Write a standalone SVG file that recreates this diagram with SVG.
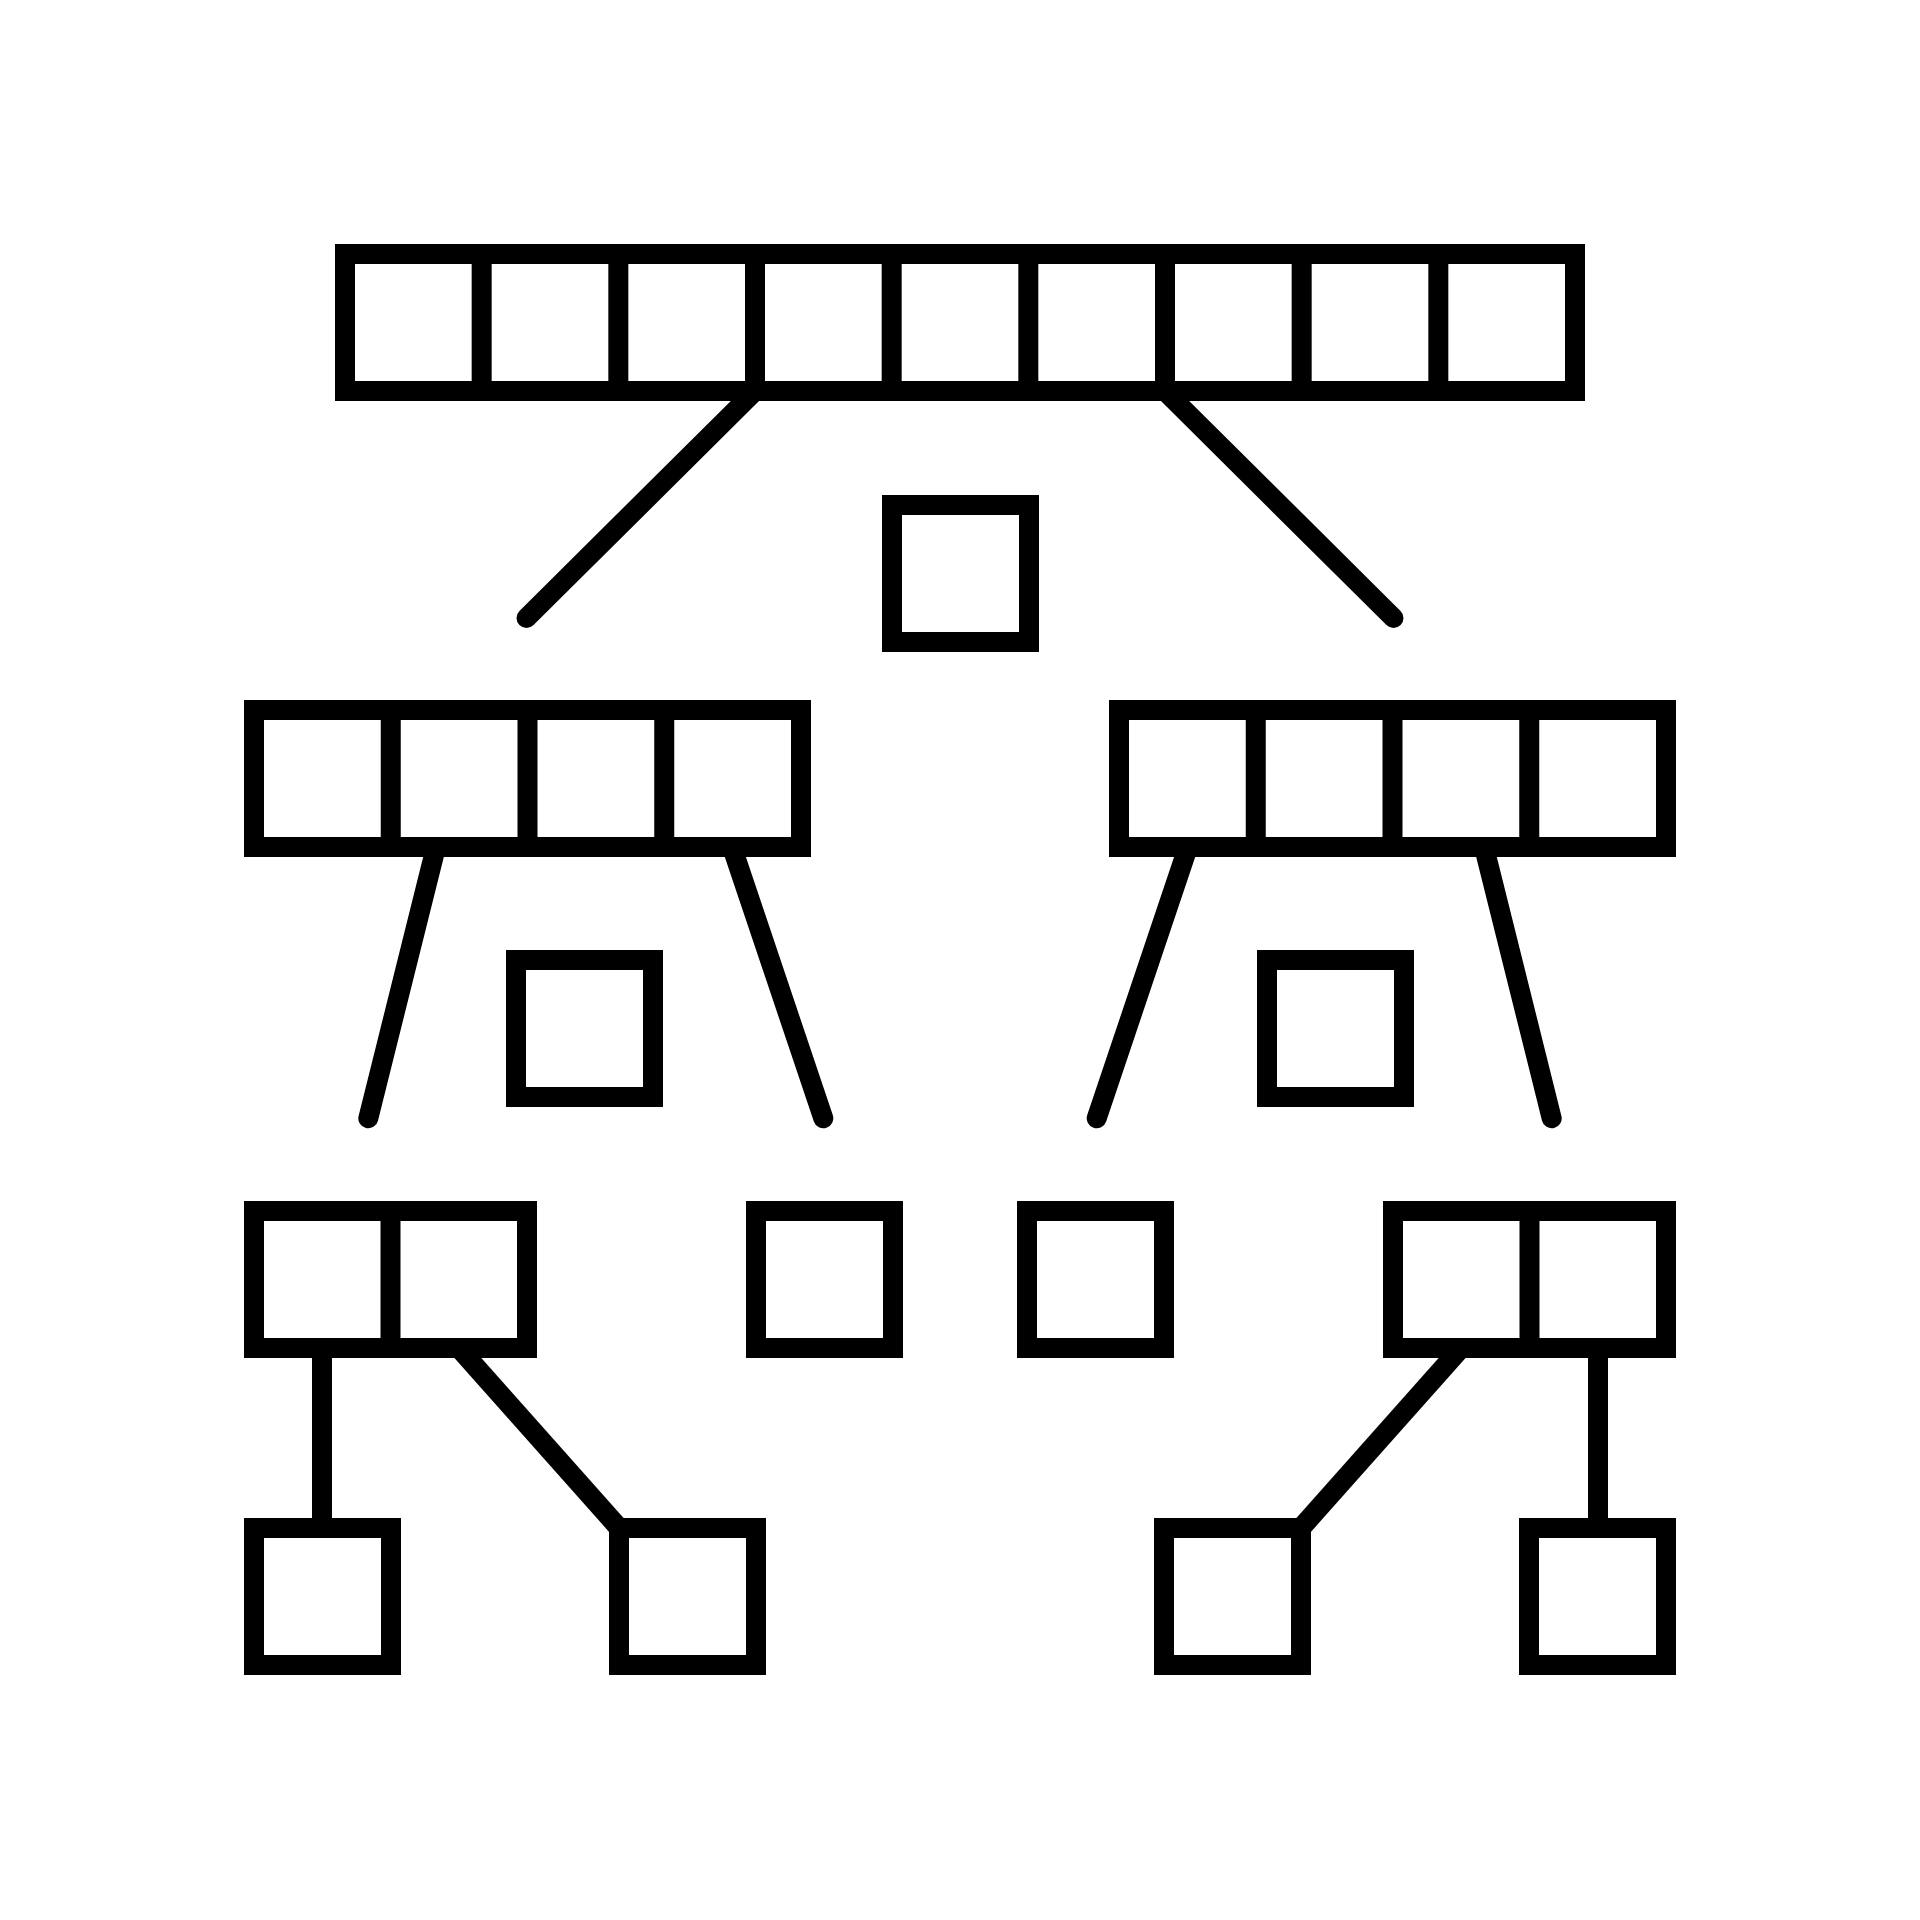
<svg xmlns="http://www.w3.org/2000/svg" width="1920" height="1920" viewBox="0 0 1920 1920">
<style>
.c{fill:none;stroke:#000;stroke-width:20}
.d{fill:none;stroke:#000;stroke-width:20;stroke-linecap:butt}
.l{fill:none;stroke:#000;stroke-width:20;stroke-linecap:round}
</style>
<defs>
<rect id="cell" class="c" width="137" height="137"/>
</defs>
<rect width="1920" height="1920" fill="#fff"/>
<g id="connectors">
<line class="l" x1="755" y1="391" x2="526.5" y2="618"/>
<line class="l" x1="1165" y1="391" x2="1393.5" y2="618"/>
<line class="l" x1="436" y1="847" x2="368.3" y2="1118.3"/>
<line class="l" x1="732" y1="847" x2="823.3" y2="1118.3"/>
<line class="l" x1="1188" y1="847" x2="1096.7" y2="1118.3"/>
<line class="l" x1="1484" y1="847" x2="1551.7" y2="1118.3"/>
<line class="d" x1="322" y1="1348" x2="322" y2="1528"/>
<line class="d" x1="459" y1="1348" x2="619" y2="1528"/>
<line class="d" x1="1598" y1="1348" x2="1598" y2="1528"/>
<line class="d" x1="1461" y1="1348" x2="1301" y2="1528"/>
</g>
<g id="top-bar">
<rect class="c" x="345" y="254" width="1230" height="137"/>
<path class="d" d="M481.67 254V391M618.33 254V391M755 254V391M891.67 254V391M1028.33 254V391M1165 254V391M1301.67 254V391M1438.33 254V391"/>
</g>
<g id="center-square">
<use href="#cell" x="892" y="505"/>
</g>
<g id="mid-left-bar">
<rect class="c" x="254" y="710" width="547" height="137"/>
<path class="d" d="M390.75 710V847M527.5 710V847M664.25 710V847"/>
</g>
<g id="mid-right-bar">
<rect class="c" x="1119" y="710" width="547" height="137"/>
<path class="d" d="M1255.75 710V847M1392.5 710V847M1529.25 710V847"/>
</g>
<g id="mid-left-square">
<use href="#cell" x="516" y="960"/>
</g>
<g id="mid-right-square">
<use href="#cell" x="1267" y="960"/>
</g>
<g id="low-left-bar">
<rect class="c" x="254" y="1211" width="273" height="137"/>
<path class="d" d="M390.5 1211V1348"/>
</g>
<g id="low-square-a">
<use href="#cell" x="756" y="1211"/>
</g>
<g id="low-square-b">
<use href="#cell" x="1027" y="1211"/>
</g>
<g id="low-right-bar">
<rect class="c" x="1393" y="1211" width="273" height="137"/>
<path class="d" d="M1529.5 1211V1348"/>
</g>
<g id="bottom-square-1">
<use href="#cell" x="254" y="1528"/>
</g>
<g id="bottom-square-2">
<use href="#cell" x="619" y="1528"/>
</g>
<g id="bottom-square-3">
<use href="#cell" x="1164" y="1528"/>
</g>
<g id="bottom-square-4">
<use href="#cell" x="1529" y="1528"/>
</g>
</svg>
